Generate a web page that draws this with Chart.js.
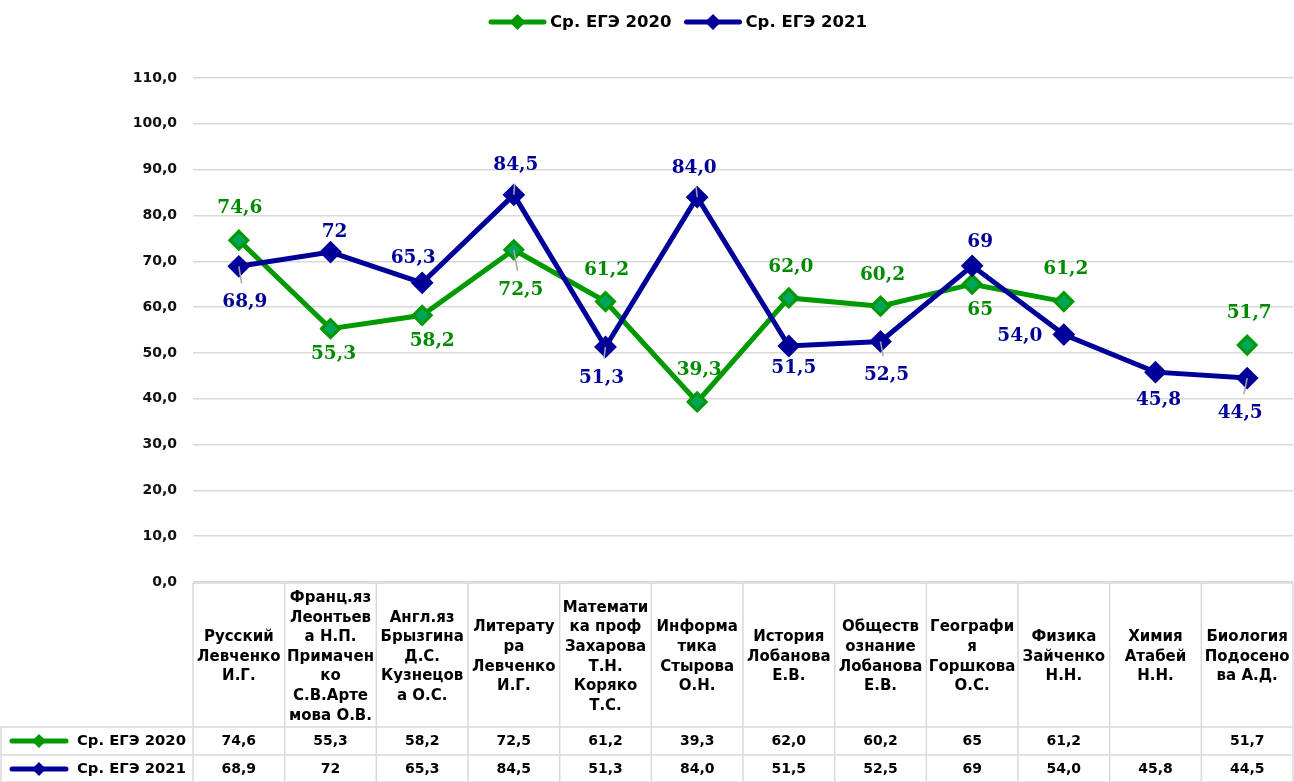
<!DOCTYPE html>
<html>
<head>
<meta charset="utf-8">
<script src="https://cdn.jsdelivr.net/npm/chart.js@4"></script>
<style>
  html, body { margin: 0; padding: 0; background: #fff; overflow: hidden; }
  #wrap { width: 1294px; height: 782px; position: relative; }
</style>
</head>
<body>
<div id="wrap"><canvas id="chart"></canvas></div>
<script>
// categories, one entry per column, split in lines as in the table header
const subjects = [
    ['Русский', 'Левченко', 'И.Г.'],
    ['Франц.яз', 'Леонтьев', 'а Н.П.', 'Примачен', 'ко', 'С.В.Арте', 'мова О.В.'],
    ['Англ.яз', 'Брызгина', 'Д.С.', 'Кузнецов', 'а О.С.'],
    ['Литерату', 'ра', 'Левченко', 'И.Г.'],
    ['Математи', 'ка проф', 'Захарова', 'Т.Н.', 'Коряко', 'Т.С.'],
    ['Информа', 'тика', 'Стырова', 'О.Н.'],
    ['История', 'Лобанова', 'Е.В.'],
    ['Обществ', 'ознание', 'Лобанова', 'Е.В.'],
    ['Географи', 'я', 'Горшкова', 'О.С.'],
    ['Физика', 'Зайченко', 'Н.Н.'],
    ['Химия', 'Атабей', 'Н.Н.'],
    ['Биология', 'Подосено', 'ва А.Д.']
];
const seriesNames = ['Ср. ЕГЭ 2020', 'Ср. ЕГЭ 2021'];
const ege2020 = [74.6, 55.3, 58.2, 72.5, 61.2, 39.3, 62.0, 60.2, 65, 61.2, null, 51.7];
const ege2021 = [68.9, 72, 65.3, 84.5, 51.3, 84.0, 51.5, 52.5, 69, 54.0, 45.8, 44.5];
// decimals each value is shown with
const dec2020 = [1, 1, 1, 1, 1, 1, 1, 1, 0, 1, 1, 1];
const dec2021 = [1, 0, 1, 1, 1, 1, 1, 1, 0, 1, 1, 1];
const yMin = 0, yMax = 110, yStep = 10;

const green = '#009900', greenFill = '#00a55a', greenText = '#008a00';
const blue = '#000099';
const gridColor = '#d9d9d9';

function fmt(v, d) {
    return v.toFixed(d).replace('.', ',');
}

// where each data label sits relative to its point [dx, dy], and which get a leader line
const labelOffsets = [
    [[1, -32], [3, 26], [10, 26], [7, 40], [1, -31], [2, -32], [2, -31], [2, -31], [8, 26], [2, -32], null, [2, -32]],
    [[6, 36], [4, -20], [-9, -25], [2, -30], [-4, 31], [-3, -29], [5, 22], [6, 34], [8, -24], [-44, 2], [3, 28], [-7, 35]]
];
const leaders = [[3], [0, 3, 4, 5, 7, 11]];

const labelsPlugin = {
    id: 'valueLabels',
    afterDatasetsDraw(chart) {
        const ctx = chart.ctx;
        const decs = [dec2020, dec2021];
        const colors = [greenText, blue];
        ctx.save();
        ctx.font = 'bold 18.5px "DejaVu Serif"';
        ctx.textAlign = 'center';
        ctx.textBaseline = 'middle';
        chart.data.datasets.forEach((ds, di) => {
            const meta = chart.getDatasetMeta(di);
            meta.data.forEach((pt, i) => {
                const v = ds.data[i];
                if (v === null || v === undefined) return;
                const off = labelOffsets[di][i];
                const lx = pt.x + off[0], ly = pt.y + off[1];
                if (leaders[di].includes(i)) {
                    const t = Math.max(0, (Math.abs(off[1]) - 19) / Math.abs(off[1]));
                    ctx.strokeStyle = '#a6a6a6';
                    ctx.lineWidth = 1.5;
                    ctx.beginPath();
                    ctx.moveTo(pt.x, pt.y);
                    ctx.lineTo(pt.x + off[0] * t, pt.y + off[1] * t);
                    ctx.stroke();
                }
                ctx.fillStyle = colors[di];
                ctx.fillText(fmt(v, decs[di][i]), lx, ly);
            });
        });
        ctx.restore();
    }
};

function drawKey(ctx, x1, x2, y, color, fill, r) {
    ctx.strokeStyle = color;
    ctx.lineWidth = 5;
    ctx.lineCap = 'round';
    ctx.beginPath();
    ctx.moveTo(x1, y);
    ctx.lineTo(x2, y);
    ctx.stroke();
    const cx = (x1 + x2) / 2;
    ctx.fillStyle = fill;
    ctx.beginPath();
    ctx.moveTo(cx - r, y);
    ctx.lineTo(cx, y - r);
    ctx.lineTo(cx + r, y);
    ctx.lineTo(cx, y + r);
    ctx.closePath();
    ctx.fill();
}

const legendPlugin = {
    id: 'lineLegend',
    afterDraw(chart) {
        const ctx = chart.ctx;
        const cols = [[green, green], [blue, blue]];
        ctx.save();
        ctx.font = 'bold 16.5px "DejaVu Sans"';
        ctx.textBaseline = 'middle';
        ctx.textAlign = 'left';
        const keyW = 53, gap = 6, between = 15;
        const widths = seriesNames.map(n => keyW + gap + ctx.measureText(n).width);
        let x = chart.width / 2 + 32 - (widths[0] + widths[1] + between) / 2;
        const y = 22;
        seriesNames.forEach((n, i) => {
            drawKey(ctx, x, x + keyW, y, cols[i][0], cols[i][1], 8);
            ctx.fillStyle = '#000';
            ctx.fillText(n, x + keyW + gap, y + 1);
            x += widths[i] + between;
        });
        ctx.restore();
    }
};

const tablePlugin = {
    id: 'dataTable',
    afterDraw(chart) {
        const ctx = chart.ctx;
        const area = chart.chartArea;
        const x = chart.scales.x;
        const half = (x.getPixelForValue(1) - x.getPixelForValue(0)) / 2;
        const top = area.bottom + 1;
        const headH = 144, rowH = 28;
        const row1 = top + headH, row2 = row1 + rowH, bottom = row2 + rowH;
        const left = x.getPixelForValue(0) - half;
        const right = area.right;

        ctx.save();
        ctx.strokeStyle = gridColor;
        ctx.lineWidth = 1.5;
        ctx.beginPath();
        ctx.moveTo(left, top); ctx.lineTo(right, top);
        ctx.moveTo(0, row1); ctx.lineTo(right, row1);
        ctx.moveTo(0, row2); ctx.lineTo(right, row2);
        ctx.moveTo(0, bottom - 1); ctx.lineTo(right, bottom - 1);
        ctx.moveTo(1, row1); ctx.lineTo(1, bottom);
        subjects.forEach((s, i) => {
            const bx = x.getPixelForValue(i) - half;
            ctx.moveTo(bx, top); ctx.lineTo(bx, bottom);
        });
        ctx.moveTo(right, top); ctx.lineTo(right, bottom);
        ctx.stroke();

        // header text
        ctx.fillStyle = '#000';
        ctx.font = 'bold 15px "DejaVu Sans"';
        ctx.textAlign = 'center';
        ctx.textBaseline = 'middle';
        const lineH = 19.6;
        const midHead = top + headH / 2 + 2;
        subjects.forEach((lines, i) => {
            const cx = x.getPixelForValue(i);
            const y0 = midHead - (lines.length - 1) * lineH / 2;
            lines.forEach((t, k) => ctx.fillText(t, cx, y0 + k * lineH));
        });

        // rows
        const rows = [[ege2020, dec2020, green, green], [ege2021, dec2021, blue, blue]];
        rows.forEach((r, ri) => {
            const cy = (ri === 0 ? row1 : row2) + rowH / 2;
            drawKey(ctx, 12, 66, cy, r[2], r[3], 7);
            ctx.fillStyle = '#000';
            ctx.textAlign = 'left';
            ctx.font = 'bold 14.8px "DejaVu Sans"';
            ctx.fillText(seriesNames[ri], 77, cy);
            ctx.textAlign = 'center';
            ctx.font = 'bold 14px "DejaVu Sans"';
            r[0].forEach((v, i) => {
                if (v === null) return;
                ctx.fillText(fmt(v, r[1][i]), x.getPixelForValue(i), cy);
            });
        });
        ctx.restore();
    }
};

new Chart(document.getElementById('chart'), {
    type: 'line',
    data: {
        labels: subjects.map(s => s.join(' ')),
        datasets: [
            {
                label: seriesNames[0],
                data: ege2020,
                borderColor: green,
                backgroundColor: greenFill,
                borderWidth: 5,
                pointStyle: 'rectRot',
                pointRadius: 9,
                pointBorderWidth: 3,
                pointBackgroundColor: greenFill,
                pointBorderColor: green,
                tension: 0,
                spanGaps: false,
                order: 1
            },
            {
                label: seriesNames[1],
                data: ege2021,
                borderColor: blue,
                backgroundColor: blue,
                borderWidth: 5,
                pointStyle: 'rectRot',
                pointRadius: 10,
                pointBorderWidth: 2,
                pointBackgroundColor: blue,
                pointBorderColor: blue,
                tension: 0,
                order: 0
            }
        ]
    },
    options: {
        responsive: true,
        maintainAspectRatio: false,
        animation: false,
        layout: { autoPadding: false, padding: { top: 78, bottom: 200, left: 0, right: 1 } },
        scales: {
            x: { display: false, offset: true },
            y: {
                min: yMin,
                max: yMax,
                afterFit(scale) { scale.width = 193; },
                border: { display: false },
                grid: { color: gridColor, lineWidth: 1.5, drawTicks: false },
                ticks: {
                    stepSize: yStep,
                    padding: 16,
                    color: '#111',
                    font: { family: 'DejaVu Sans', weight: 'bold', size: 14 },
                    callback: v => fmt(v, 1)
                }
            }
        },
        plugins: {
            legend: { display: false },
            tooltip: { enabled: false }
        }
    },
    plugins: [labelsPlugin, legendPlugin, tablePlugin]
});
</script>
</body>
</html>
